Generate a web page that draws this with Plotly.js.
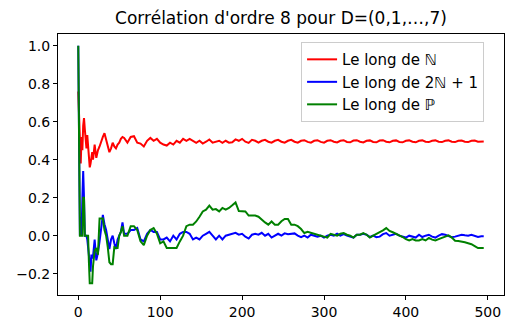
<!DOCTYPE html>
<html>
<head>
<meta charset="utf-8">
<script src="https://cdn.plot.ly/plotly-3.0.1.min.js"></script>
<style>html,body{margin:0;padding:0;background:#fff;}#chart{width:506px;height:329px;}</style>
</head>
<body>
<div id="chart"></div>
<script>
const titleText = "Corrélation d'ordre 8 pour D=(0,1,…,7)";
const seriesNames = ["Le long de ℕ", "Le long de 2ℕ + 1", "Le long de ℙ"];
const seriesColors = ["#ff0000", "#0000ff", "#008000"];

const xN = [
  0,1,2,3,4,5,6,7,8,9,10,11,12,13,14,15,16,17,18,19,20,
  22,24,26,28,30,32,34,36,38,40,42,44,46,48,50,52,54,56,
  60,64,68,72,76,80,84,88,92,96,
  100,104,108,112,116,120,124,128,132,136,
  140,144,148,152,156,160,164,168,172,176,
  180,184,188,192,196,200,204,208,212,216,
  220,224,228,232,236,240,244,248,252,256,
  260,264,268,272,276,280,284,288,292,296,
  300,304,308,312,316,320,324,328,332,336,
  340,344,348,352,356,360,364,368,372,376,
  380,384,388,392,396,400,404,408,412,416,
  420,424,428,432,436,440,444,448,452,456,
  460,464,468,472,476,480,484,488,492,495
];

const redN = [
  0.76,0.6,0.42,0.38,0.52,0.45,0.58,0.62,0.56,0.52,0.46,0.53,0.48,0.42,0.36,0.38,0.42,0.44,0.40,0.46,0.48,
  0.41,0.45,0.47,0.50,0.52,0.54,0.51,0.47,0.44,0.46,0.49,0.47,0.46,0.48,0.49,0.51,0.52,0.515,
  0.49,0.52,0.524,0.49,0.485,0.47,0.5,0.515,0.5,0.51,
  0.49,0.48,0.475,0.49,0.48,0.5,0.49,0.51,0.5,0.51,
  0.5,0.489,0.5,0.485,0.495,0.507,0.49,0.495,0.5,0.489,
  0.5,0.49,0.492,0.507,0.5,0.51,0.495,0.489,0.505,0.5,
  0.49,0.5,0.505,0.495,0.49,0.5,0.505,0.495,0.49,0.5,
  0.505,0.495,0.49,0.5,0.503,0.494,0.49,0.5,0.503,0.494,
  0.49,0.5,0.503,0.495,0.491,0.5,0.503,0.494,0.492,0.501,
  0.503,0.495,0.491,0.5,0.502,0.494,0.492,0.501,0.503,0.495,
  0.492,0.5,0.502,0.494,0.492,0.5,0.502,0.495,0.492,0.5,
  0.502,0.495,0.493,0.5,0.502,0.495,0.493,0.5,0.502,0.495,
  0.493,0.5,0.501,0.495,0.493,0.5,0.501,0.495,0.494,0.496
];

const blueOdd = [
  1.0,0.33,0.0,0.1,0.0,0.2,0.34,0.2,0.0,0.0,0.0,-0.02,-0.06,-0.1,-0.14,-0.19,-0.1,-0.12,-0.11,-0.06,-0.02,
  -0.13,-0.09,-0.03,0.04,0.11,0.06,0.03,-0.02,-0.07,-0.02,0.0,-0.04,-0.07,-0.02,0.0,0.02,0.07,0.01,
  0.01,0.03,0.03,0.04,-0.02,-0.03,0.01,0.03,0.02,0.02,
  -0.02,-0.02,-0.01,-0.03,0.0,-0.02,0.01,0.02,0.02,0.01,
  -0.02,-0.01,-0.02,0.0,0.01,0.02,0.0,-0.02,0.0,-0.02,
  0.0,0.005,0.01,0.015,0.005,0.01,-0.005,-0.015,0.005,0.01,
  0.005,0.015,0.0,0.01,-0.01,0.0,0.01,0.0,0.012,0.008,
  0.01,0.012,0.0,-0.008,0.0,-0.01,0.005,0.0,-0.005,0.0,
  -0.01,0.0,0.005,0.0,0.01,0.0,0.008,0.0,-0.005,-0.01,
  0.005,0.005,0.01,0.005,-0.007,0.0,-0.008,-0.005,0.008,0.014,
  0.0,0.005,0.01,0.0,-0.005,-0.01,0.0,-0.005,-0.01,0.005,
  -0.007,0.0,0.005,-0.005,-0.01,0.0,0.008,0.005,0.0,-0.008,
  -0.005,0.0,0.005,0.002,0.0,0.005,0.0,-0.007,-0.003,-0.003
];

const greenPrime = [
  1.0,0.5,0.0,0.0,0.0,0.0,0.2,0.2,0.0,0.0,0.0,0.0,0.0,-0.14,-0.25,-0.25,-0.25,-0.25,-0.16,-0.1,-0.08,
  -0.065,-0.1,0.09,0.09,0.09,0.03,0.0,-0.06,-0.14,-0.15,-0.15,-0.06,-0.065,-0.065,0.0,0.02,0.05,0.0,
  0.0,0.05,0.05,0.03,-0.03,-0.05,0.0,0.03,0.04,0.01,
  -0.04,-0.03,-0.065,-0.065,-0.065,-0.065,-0.03,0.0,0.05,0.058,
  0.058,0.075,0.1,0.128,0.137,0.158,0.137,0.14,0.128,0.146,
  0.137,0.146,0.16,0.175,0.13,0.128,0.128,0.106,0.106,0.106,
  0.1,0.084,0.07,0.058,0.075,0.058,0.058,0.076,0.088,0.088,
  0.058,0.058,0.05,0.035,0.014,0.02,0.014,0.012,0.002,0.0,
  -0.005,-0.01,0.01,0.005,0.0,0.01,0.014,0.005,0.0,-0.01,
  0.005,0.005,0.014,0.005,-0.01,0.0,0.008,0.018,0.028,0.04,
  0.025,0.018,0.01,0.005,-0.007,-0.018,-0.025,-0.018,-0.025,-0.025,
  -0.018,-0.025,-0.012,-0.021,-0.025,-0.018,-0.012,-0.005,0.002,-0.01,
  -0.027,-0.028,-0.03,-0.035,-0.04,-0.045,-0.055,-0.065,-0.065,-0.065
];

const xTicks = [0, 100, 200, 300, 400, 500];
const yTicks = [-0.2, 0.0, 0.2, 0.4, 0.6, 0.8, 1.0];

const ys = [redN, blueOdd, greenPrime];
const traces = ys.map((y, i) => ({
  x: xN, y: y, type: 'scatter', mode: 'lines', name: seriesNames[i],
  line: {color: seriesColors[i], width: 2}
}));

const FONT = 'DejaVu Sans, sans-serif';
const layout = {
  width: 506, height: 329,
  margin: {l: 58, r: 2, t: 34, b: 34},
  paper_bgcolor: '#ffffff', plot_bgcolor: '#ffffff',
  font: {family: FONT, size: 14, color: '#000'},
  title: {text: titleText, font: {family: FONT, size: 17, color: '#000'},
          xref: 'paper', x: 0.5, xanchor: 'center', yref: 'container', y: 1 - 18/329, yanchor: 'middle'},
  xaxis: {range: [-24.75, 519.75], tickvals: xTicks, ticks: 'outside', ticklen: 4, tickwidth: 1, tickcolor: '#000',
          showline: true, mirror: true, linecolor: '#000', linewidth: 1, showgrid: false, zeroline: false,
          tickfont: {family: FONT, size: 14, color: '#000'}},
  yaxis: {range: [-0.3125, 1.0625], tickvals: yTicks, tickformat: '.1f', ticks: 'outside', ticklen: 4, tickwidth: 1, tickcolor: '#000',
          showline: true, mirror: true, linecolor: '#000', linewidth: 1, showgrid: false, zeroline: false,
          tickfont: {family: FONT, size: 14, color: '#000'}},
  legend: {x: 0.545, xanchor: 'left', y: 0.969, yanchor: 'top', bgcolor: 'rgba(255,255,255,0.8)',
           bordercolor: '#cccccc', borderwidth: 1, font: {family: FONT, size: 15, color: '#000'}},
  showlegend: true
};

Plotly.newPlot('chart', traces, layout, {displayModeBar: false, staticPlot: true});
</script>
</body>
</html>
